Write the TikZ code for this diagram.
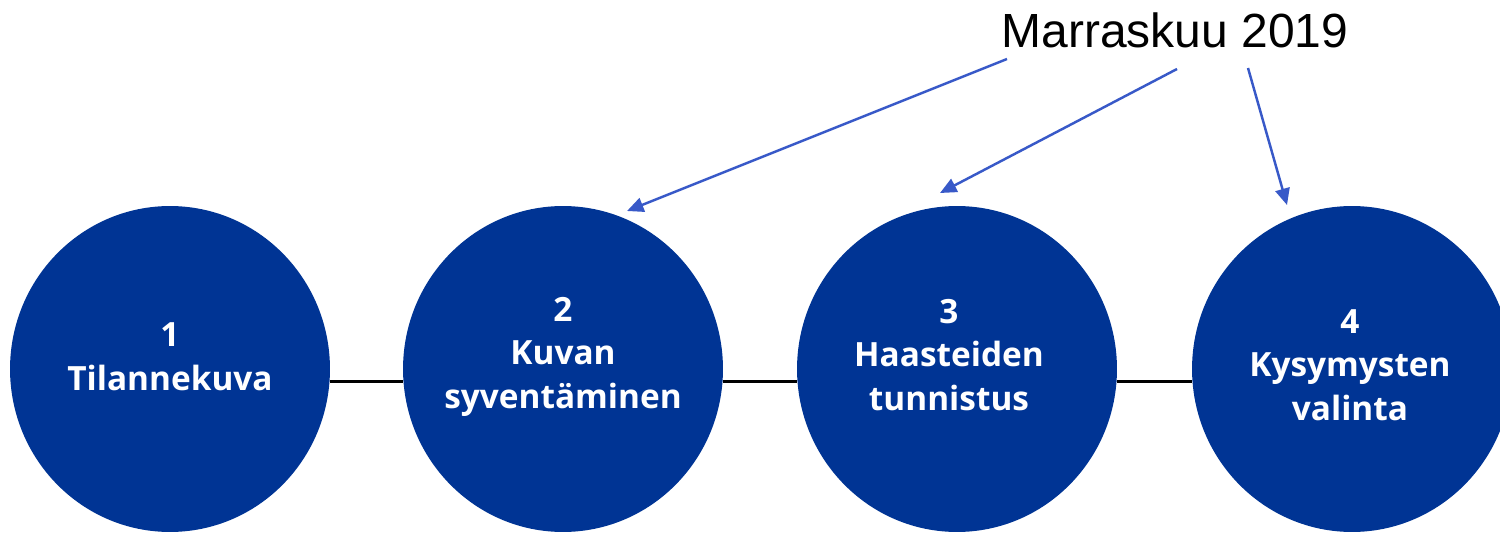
\documentclass[tikz,border=0pt]{standalone}
\usepackage{fontspec}
\setmainfont{Liberation Sans}
\newfontfamily\stagefont{Open Sans}
\usetikzlibrary{arrows.meta,calc,shapes.geometric}
\definecolor{stageblue}{RGB}{0,52,148}
\definecolor{pointerblue}{RGB}{56,89,200}

\begin{document}
\begin{tikzpicture}[x=0.02cm,y=-0.02cm,
    stage/.style={ellipse,fill=stageblue,minimum width=6.4cm,minimum height=6.52cm,inner sep=0pt},
    stagetext/.style={anchor=base,align=center,text=white,inner sep=0pt,
      font={\stagefont\bfseries\fontsize{19}{24.5}\selectfont}},
    link/.style={black,line width=1.4pt},
    pointer/.style={-{Triangle[length=0.33cm,width=0.29cm]},pointerblue,line width=1.4pt}]
    \useasboundingbox (0,0) rectangle (1500,533);
    \clip (0,0) rectangle (1500,533);
    % stages
    \foreach \i/\x in {1/170,2/563,3/957,4/1352}{
      \node[stage] (c\i) at (\x,369) {};
    }
    % links between stages
    \foreach \a/\b in {1/2,2/3,3/4}{
      \draw[link] ([yshift=-0.25cm]c\a.east) -- ([yshift=-0.25cm]c\b.west);
    }
    % stage labels (anchored at the last line)
    \node[stagetext] (t1) at (170,390) {1\\Tilannekuva};
    \node[stagetext] (t2) at (563,408) {2\\Kuvan\\syventäminen};
    \node[stagetext] (t3) at (949,410) {3\\Haasteiden\\tunnistus};
    \node[stagetext] (t4) at (1350,420) {4\\Kysymysten\\valinta};
    % date label and pointers
    \node[anchor=base,inner sep=0pt,font={\fontsize{27.3}{32}\selectfont}] (m) at (1175,48) {Marraskuu 2019};
    \coordinate (p2) at ($(c2.center)+(64,-158)$);
    \coordinate (p3) at ($(c3.center)+(-17,-176)$);
    \coordinate (p4) at ($(c4.center)+(-65,-164)$);
    \draw[pointer] ($(m.base)+(-168,11)$) -- (p2);
    \draw[pointer] ($(m.base)+(2,21)$) -- (p3);
    \draw[pointer] ($(m.base)+(73,20)$) -- (p4);
\end{tikzpicture}
\end{document}
